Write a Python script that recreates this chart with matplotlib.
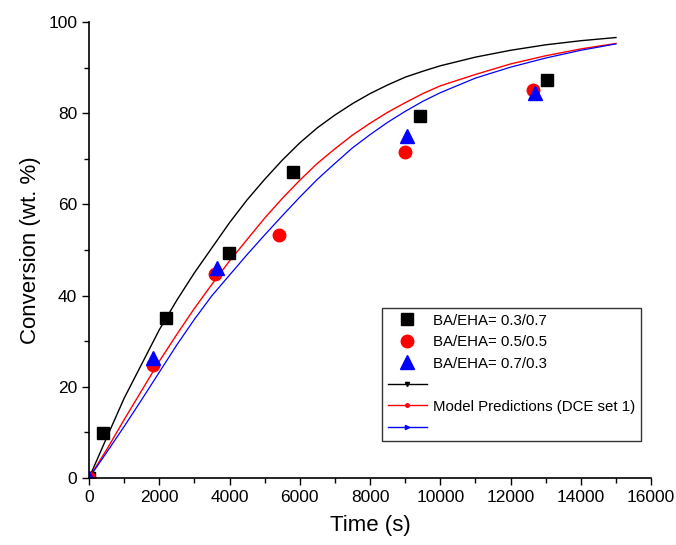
"""Conversion vs time: experimental points and model curves."""

import matplotlib
matplotlib.use("Agg")
import matplotlib.pyplot as plt
from matplotlib.lines import Line2D
from matplotlib.ticker import MultipleLocator

plt.rcParams["font.family"] = ["Liberation Sans", "DejaVu Sans"]

# experimental data
t_37 = [0, 400, 2190, 3990, 5810, 9420, 13040]
x_37 = [0, 9.9, 35.2, 49.3, 67.0, 79.3, 87.2]

t_55 = [0, 1820, 3590, 5410, 9000, 12650]
x_55 = [0, 24.8, 44.7, 53.3, 71.6, 85.0]

t_73 = [0, 1830, 3650, 9050, 12700]
x_73 = [0, 26.4, 46.1, 75.0, 84.5]

# model curves
t_model = [0, 500, 1000, 1500, 2000, 2500, 3000, 3500, 4000, 4500, 5000,
           5500, 6000, 6500, 7000, 7500, 8000, 8500, 9000, 9500, 10000,
           11000, 12000, 13000, 14000, 15000]
m_37 = [0, 8.8, 17.5, 25.0, 32.5, 39.0, 45.0, 50.5, 56.0, 61.0, 65.5,
        69.7, 73.5, 76.8, 79.6, 82.1, 84.3, 86.2, 87.9, 89.2, 90.4,
        92.3, 93.8, 95.0, 95.9, 96.6]
m_55 = [0, 6.2, 12.8, 19.2, 25.6, 31.5, 37.2, 42.5, 47.6, 52.3, 57.0,
        61.3, 65.3, 69.0, 72.2, 75.2, 77.8, 80.2, 82.3, 84.3, 86.0,
        88.5, 90.8, 92.6, 94.1, 95.3]
m_73 = [0, 5.6, 11.3, 17.2, 23.2, 29.2, 34.8, 40.0, 44.5, 49.0, 53.3,
        57.5, 61.6, 65.5, 69.0, 72.4, 75.3, 78.0, 80.4, 82.6, 84.5,
        87.7, 90.1, 92.1, 93.8, 95.2]

labels = ["BA/EHA= 0.3/0.7", "BA/EHA= 0.5/0.5", "BA/EHA= 0.7/0.3"]
model_label = "Model Predictions (DCE set 1)"


def main():
    fig = plt.figure(figsize=(6.76, 5.45), dpi=100)
    ax = fig.add_axes([0.1317, 0.1229, 0.8314, 0.8367])

    ax.plot(t_model, m_37, color="black", lw=1.0)
    ax.plot(t_model, m_55, color="red", lw=1.0)
    ax.plot(t_model, m_73, color="blue", lw=0.9)

    ax.plot(t_37, x_37, ls="none", marker="s", ms=8, color="black")
    ax.plot(t_55, x_55, ls="none", marker="o", ms=9, color="red")
    ax.plot(t_73, x_73, ls="none", marker="^", ms=10, color="blue")

    ax.set_xlim(0, 16000)
    ax.set_ylim(0, 100)
    ax.xaxis.set_major_locator(MultipleLocator(2000))
    ax.xaxis.set_minor_locator(MultipleLocator(1000))
    ax.yaxis.set_major_locator(MultipleLocator(20))
    ax.yaxis.set_minor_locator(MultipleLocator(10))
    ax.tick_params(which="major", direction="out", length=5, width=1,
                   labelsize=12.5)
    ax.tick_params(which="minor", direction="out", length=3.5, width=1)
    for side in ("top", "right"):
        ax.spines[side].set_visible(False)
    for side in ("left", "bottom"):
        ax.spines[side].set_linewidth(1.2)

    ax.set_xlabel("Time (s)", fontsize=16, labelpad=7)
    ax.set_ylabel("Conversion (wt. %)", fontsize=16, labelpad=5)

    handles = [
        Line2D([], [], ls="none", marker="s", ms=8, color="black"),
        Line2D([], [], ls="none", marker="o", ms=9, color="red"),
        Line2D([], [], ls="none", marker="^", ms=10, color="blue"),
        Line2D([], [], color="black", lw=1, marker="v", ms=3),
        Line2D([], [], color="red", lw=1, marker="o", ms=2.5),
        Line2D([], [], color="blue", lw=1, marker=">", ms=3),
    ]
    leg_labels = labels + ["", model_label, ""]
    # legend box spans a fixed region, extra width goes to the right
    leg = ax.legend(handles, leg_labels, loc="lower left",
                    bbox_to_anchor=(0.521, 0.081, 0.461, 0.292),
                    mode="expand", fontsize=10.8,
                    frameon=True, fancybox=False, edgecolor="black",
                    handlelength=2.6, handletextpad=0.4, labelspacing=0.5,
                    borderpad=0.4, borderaxespad=0)
    leg.get_frame().set_linewidth(1.0)

    fig.savefig("out.png", dpi=100)
    plt.close(fig)


if __name__ == "__main__":
    main()
